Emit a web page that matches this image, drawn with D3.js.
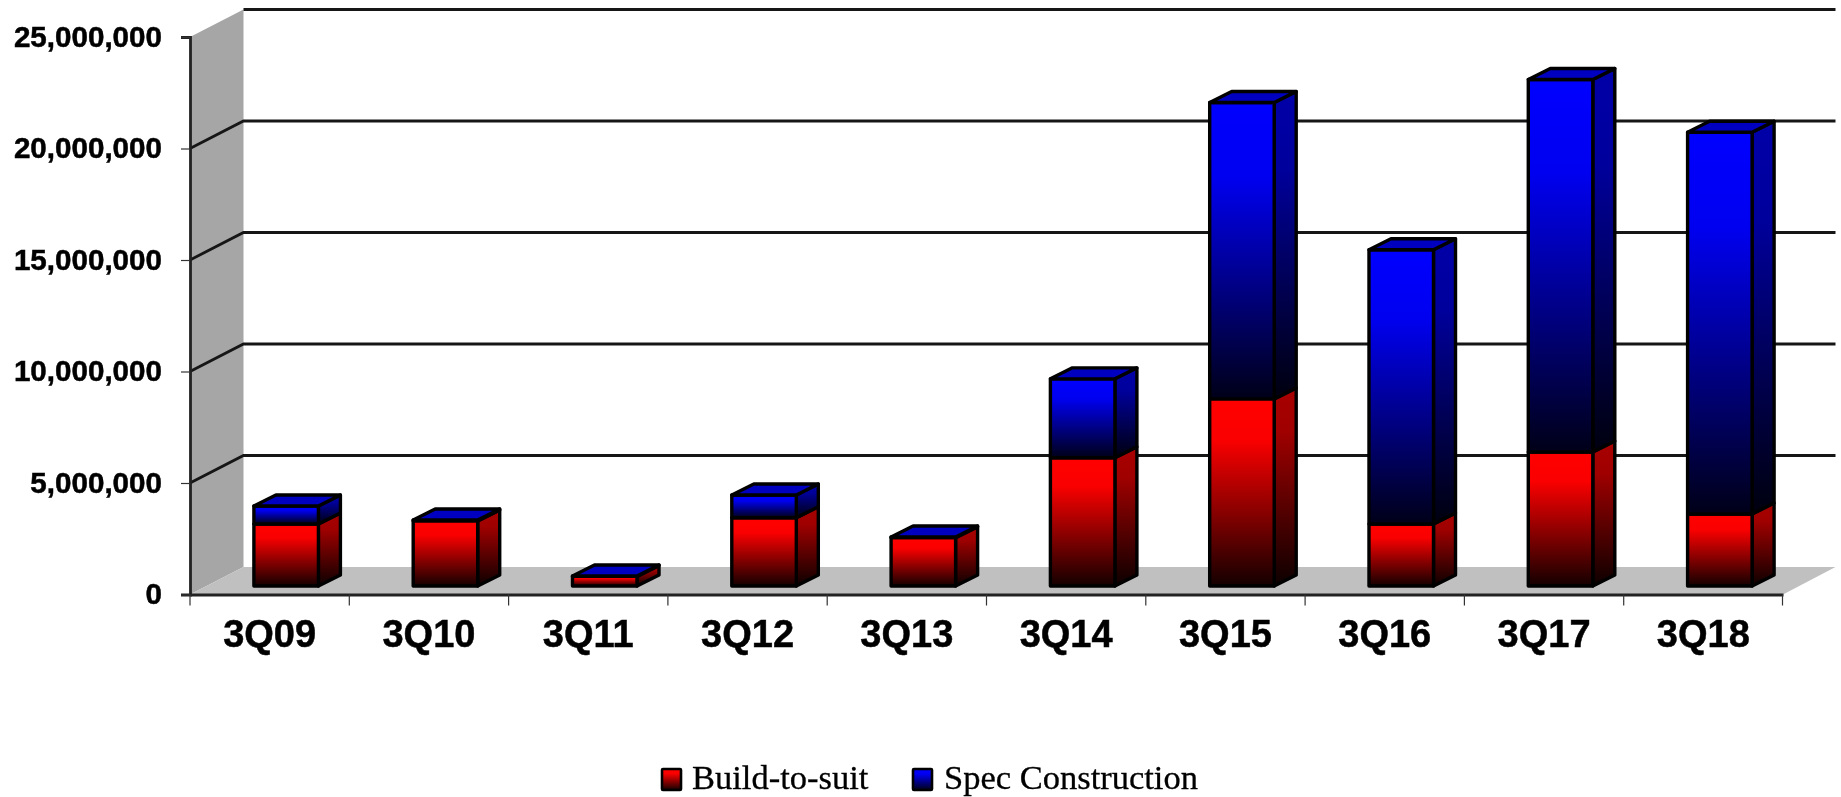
<!DOCTYPE html>
<html><head><meta charset="utf-8">
<style>html,body{margin:0;padding:0;background:#fff}svg{display:block;filter:blur(0.45px)}</style>
<script src="https://cdn.jsdelivr.net/npm/d3@7"></script></head>
<body><svg id="c" width="1841" height="797"></svg>
<script>
const categories=["3Q09","3Q10","3Q11","3Q12","3Q13","3Q14","3Q15","3Q16","3Q17","3Q18"];
const buildToSuit=[2780000,2920000,430000,3060000,2170000,5750000,8390000,2780000,6010000,3230000];
const specConstruction=[810000,40000,20000,1020000,30000,3540000,13290000,12300000,16700000,17120000];
const yTicks=[0,5000000,10000000,15000000,20000000,25000000];
const legendLabels=["Build-to-suit","Spec Construction"];

const svg=d3.select("#c");
const left=190,right=1783,y0=594.5,y25=37;
const wallDx=53.5,wallDy=-27.5;
const barDx=22,barDy=-11,offX=16.5,offY=-8.5;
const x=d3.scaleBand().domain(categories).range([left,right]).paddingInner(0.595).paddingOuter(0.2975);
const y=d3.scaleLinear().domain([0,25000000]).range([y0,y25]);

const defs=svg.append("defs");
function grad(id,stops){
  const g=defs.append("linearGradient").attr("id",id).attr("x1",0).attr("y1",0).attr("x2",0).attr("y2",1);
  stops.forEach(s=>g.append("stop").attr("offset",s[0]).attr("stop-color",s[1]));
}
grad("rf",[[0,"#ff0000"],[0.22,"#fa0000"],[1,"#140000"]]);
grad("rs",[[0,"#a80000"],[0.22,"#a00000"],[1,"#0c0000"]]);
grad("bf",[[0,"#0000ff"],[0.25,"#0000f0"],[1,"#000018"]]);
grad("bs",[[0,"#0000a8"],[0.25,"#00009c"],[1,"#00000e"]]);

// walls
svg.append("polygon").attr("fill","#a6a6a6")
  .attr("points",[[left,y(25000000)],[left+wallDx,y(25000000)+wallDy],[left+wallDx,y0+wallDy],[left,y0]].join(" "));
svg.append("polygon").attr("fill","#c0c0c0")
  .attr("points",[[left,y0],[left+wallDx,y0+wallDy],[right+wallDx-1,y0+wallDy],[right,y0]].join(" "));

// gridlines
svg.append("g").selectAll("path").data(yTicks.slice(1)).join("path")
  .attr("fill","none").attr("stroke","#161616").attr("stroke-width",2.8)
  .attr("d",d=>d===25000000
    ?`M${left+wallDx},${y(d)+wallDy}H${right+wallDx-1}`
    :`M${left},${y(d)}L${left+wallDx},${y(d)+wallDy}H${right+wallDx-1}`);

// stacked 3D bars
const stack=d3.stack().keys([0,1]).value((d,k)=>d[k])(categories.map((c,i)=>[buildToSuit[i],specConstruction[i]]));
const names=["r","b"];
const barG=svg.append("g").attr("stroke","#000").attr("stroke-width",3.4).attr("stroke-linejoin","round");
categories.forEach((c,i)=>{
  const X0=x(c)+offX,W=x.bandwidth();
  const g=barG.append("g");
  stack.forEach((s,k)=>{
    const yb=y(s[i][0])+offY, yt=y(s[i][1])+offY;
    g.append("polygon").attr("fill",`url(#${names[k]}s)`)
      .attr("points",[[X0+W,yb],[X0+W+barDx,yb+barDy],[X0+W+barDx,yt+barDy],[X0+W,yt]].join(" "));
    g.append("rect").attr("x",X0).attr("y",yt).attr("width",W).attr("height",yb-yt).attr("fill",`url(#${names[k]}f)`);
  });
  const top=y(stack[1][i][1])+offY;
  g.append("polygon").attr("fill","#0000c0")
    .attr("points",[[X0,top],[X0+barDx,top+barDy],[X0+W+barDx,top+barDy],[X0+W,top]].join(" "));
});

// axes
const yAxis=svg.append("g").attr("transform",`translate(${left},0)`)
  .call(d3.axisLeft(y).tickValues(yTicks).tickSize(9).tickPadding(19).tickFormat(d3.format(",")));
const xAxis=svg.append("g").attr("transform",`translate(0,${y0})`)
  .call(d3.axisBottom(x).tickSize(0).tickPadding(26));
svg.append("g").attr("transform",`translate(0,${y0})`).selectAll("line")
  .data(categories.map(c=>x(c)-x.step()*0.2975).concat([right-0.5])).join("line")
  .attr("x1",d=>d).attr("x2",d=>d).attr("y1",0).attr("y2",11).attr("stroke","#333").attr("stroke-width",1.2);
yAxis.select(".domain").attr("stroke","#222").attr("stroke-width",2.8);
xAxis.select(".domain").attr("stroke","#222").attr("stroke-width",2.8);
yAxis.selectAll(".tick line").attr("stroke","#333").attr("stroke-width",1.2);
yAxis.selectAll("text").attr("font-family","'Liberation Sans'").attr("font-weight","bold").attr("font-size",29.6).attr("fill","#000").attr("stroke","#000").attr("stroke-width",0.5);
xAxis.selectAll("text").attr("font-family","'Liberation Sans'").attr("font-weight","bold").attr("font-size",38).attr("fill","#000").attr("stroke","#000").attr("stroke-width",0.5);

// legend
const legX=[662,913],legT=[692,944];
const lg=svg.append("g");
legendLabels.forEach((t,i)=>{
  lg.append("rect").attr("x",legX[i]).attr("y",769).attr("width",19).attr("height",21).attr("rx",1)
    .attr("fill",`url(#${names[i]}f)`).attr("stroke","#000").attr("stroke-width",2.6);
  lg.append("text").attr("x",legT[i]).attr("y",789).attr("font-family","'Liberation Serif'")
    .attr("font-size",34.5).attr("fill","#000").attr("stroke","#000").attr("stroke-width",0.3).text(t);
});
</script></body></html>
